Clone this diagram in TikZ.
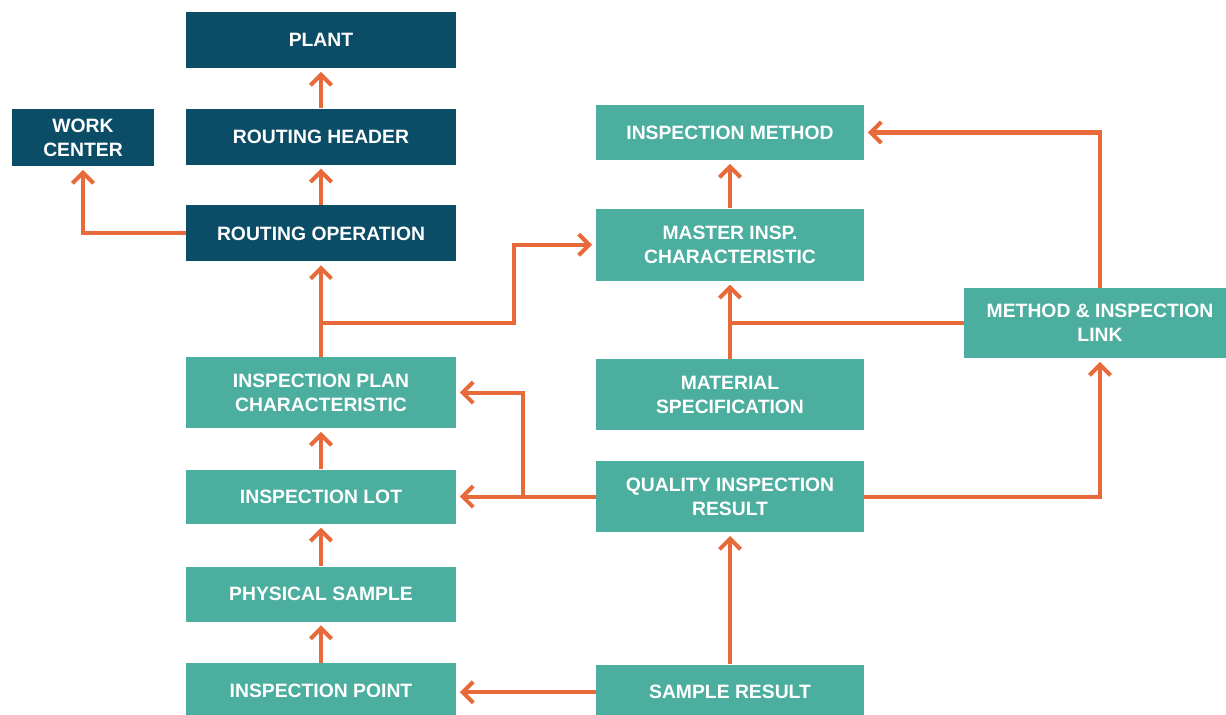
\documentclass[tikz,border=0pt]{standalone}
\usepackage{fontspec}
\setmainfont{Liberation Sans}
\usepackage{xcolor}
\usepackage{tikz}
\usetikzlibrary{arrows.meta,positioning,calc}

\definecolor{navy}{HTML}{0B4C66}
\definecolor{teal}{HTML}{4BAE9E}
\definecolor{wireorange}{HTML}{E8693A}

\begin{document}
\begin{tikzpicture}[
  box/.style={rectangle, text=white, inner sep=2pt,
              minimum width=5.4cm, minimum height=1.12cm,
              align=center, font=\bfseries\fontsize{11}{13.5}\selectfont},
  dark/.style={box, fill=navy},
  light/.style={box, fill=teal},
  wire/.style={line width=2.3pt, wireorange},
  arr/.style={wire, -{Straight Barb[length=6pt,width=12pt]}, shorten >=2pt}
]
\useasboundingbox (0,0) rectangle (24.52,-14.28);

% routing side
\node[dark] (plant) at (6.42,-0.80) {PLANT};
\node[dark,  below=0.8cm of plant] (rhead) {ROUTING HEADER};
\node[dark,  below=0.8cm of rhead] (rop) {ROUTING OPERATION};
\node[dark, minimum width=2.84cm, minimum height=1.14cm] (wcenter) at (1.66,-2.75) {WORK\\CENTER};

% inspection side, left column
\node[light, minimum height=1.42cm, below=1.9cm of rop] (ipc) {INSPECTION PLAN\\CHARACTERISTIC};
\node[light, minimum height=1.08cm, below=0.82cm of ipc] (ilot) {INSPECTION LOT};
\node[light, minimum height=1.1cm,  below=0.84cm of ilot] (psample) {PHYSICAL SAMPLE};
\node[light, minimum height=1.1cm,  below=0.82cm of psample] (ipoint) {INSPECTION POINT};

% inspection side, right column
\node[light, minimum width=5.36cm, minimum height=1.1cm] (imethod) at (14.60,-2.65) {INSPECTION METHOD};
\node[light, minimum width=5.36cm, minimum height=1.44cm, below=0.96cm of imethod] (mic) {MASTER INSP.\\CHARACTERISTIC};
\node[light, minimum width=5.36cm, minimum height=1.42cm, below=1.56cm of mic] (mspec) {MATERIAL\\SPECIFICATION};
\node[light, minimum width=5.36cm, minimum height=1.42cm, below=0.6cm of mspec] (qir) {QUALITY INSPECTION\\RESULT};
\node[light, minimum width=5.36cm, minimum height=1.1cm, below=2.64cm of qir] (sres) {SAMPLE RESULT};
\node[light, minimum width=5.44cm, minimum height=1.4cm] (mlink) at (22.0,-6.46) {METHOD \& INSPECTION\\LINK};

% junctions
\coordinate (jplan) at ($(ipc.north)+(0,0.68)$);
\coordinate (jlot) at (10.46,0 |- qir.west);
\coordinate (jspec) at (mlink.west -| mspec.north);

\draw[arr] (rhead) -- (plant);
\draw[arr] (rop) -- (rhead);
\draw[arr] (rop.west) -| (wcenter.south);
\draw[arr] (ipc) -- (rop);
\draw[arr] (jplan) -- ++(3.86,0) |- (mic.west);
\draw[arr] (ilot) -- (ipc);
\draw[arr] (psample) -- (ilot);
\draw[arr] (ipoint) -- (psample);

\draw[arr] (sres.west) -- (sres.west -| ipoint.east);
\draw[arr] (sres) -- (qir);
\draw[arr] (qir.west) -- (qir.west -| ilot.east);
\draw[arr] (jlot) |- (ipc.east);
\draw[arr] (qir.east) -| (mlink.south);
\draw[arr] (mspec) -- (mic);
\draw[wire] (mlink.west) -- (jspec);
\draw[arr] (mlink.north) |- (imethod.east);
\draw[arr] (mic) -- (imethod);
\end{tikzpicture}
\end{document}
